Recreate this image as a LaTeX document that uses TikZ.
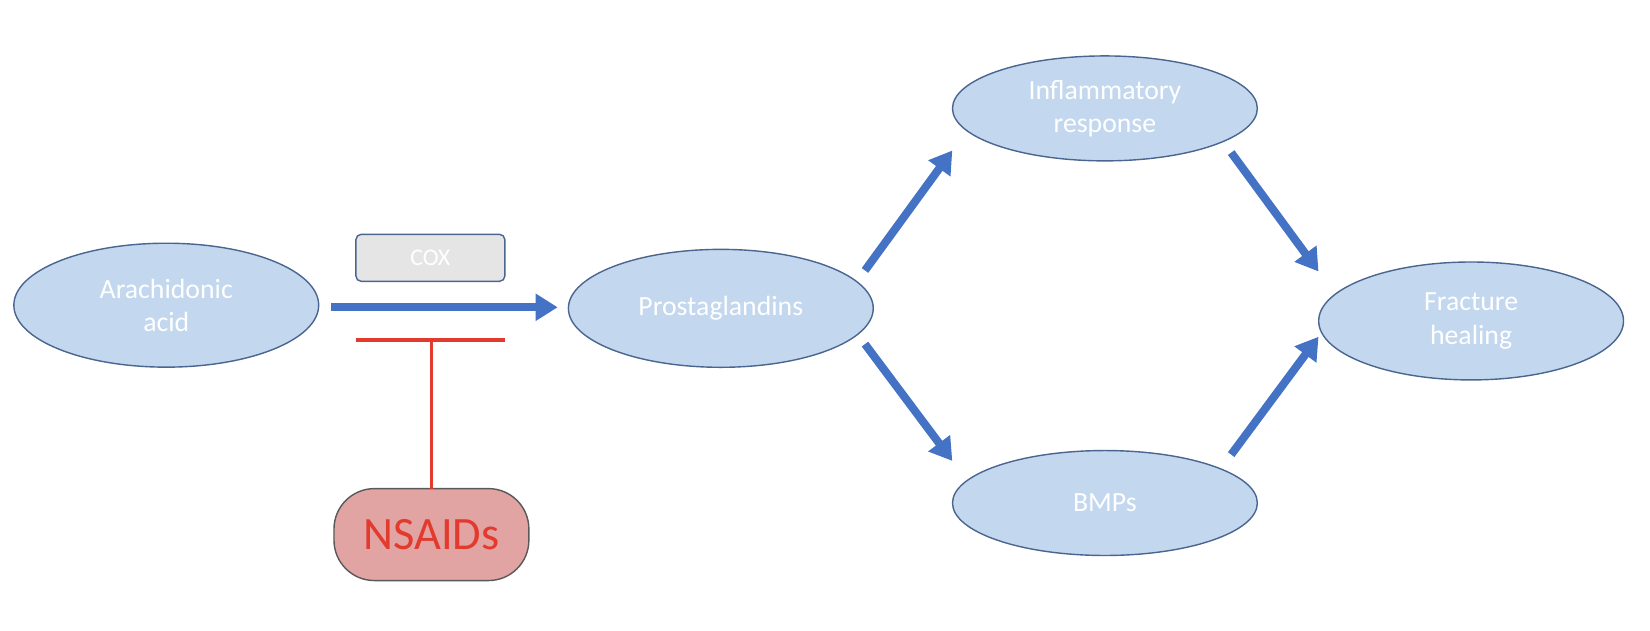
\documentclass[tikz,border=0pt]{standalone}
\usepackage{fontspec}
\setmainfont{Carlito}
\usetikzlibrary{shapes.geometric,arrows.meta}
\definecolor{ellfill}{HTML}{C3D7EE}
\definecolor{ellline}{HTML}{4A6590}
\definecolor{arrblue}{HTML}{4472C4}
\definecolor{inhred}{HTML}{E23B2E}
\definecolor{drugfill}{HTML}{E2A3A3}
\begin{document}
\begin{tikzpicture}[x=0.010523cm, y=-0.010523cm,
    stage/.style={ellipse, draw=ellline, fill=ellfill, inner sep=0pt, outer sep=0pt, minimum width=3.05cm, minimum height=1.18cm, align=center, text=white, font=\fontsize{7.9}{9.5}\selectfont},
    flow/.style={-{Triangle[length=6.3pt,width=7.4pt]}, line width=2.3pt, arrblue}
]
    \useasboundingbox (0,0) rectangle (1568,599);
    % metabolites
    \node[stage, minimum height=1.24cm] (aa) at (158,290) {Arachidonic\\acid};
    \node[stage] (pg) at (685,293) {Prostaglandins};
    \node[stage, minimum height=1.05cm] (inf) at (1050,103) {Inflammatory\\response};
    \node[stage, minimum height=1.05cm] (bmp) at (1050,478) {BMPs};
    \node[stage] (fh) at (1398,305) {Fracture\\healing};

    % enzyme and inhibitor
    \node[draw=ellline, fill=gray!20, rounded corners=1.5pt, inner sep=0pt, outer sep=0pt, minimum width=1.49cm, minimum height=0.47cm, text=white, font=\fontsize{6.8}{8}\selectfont] (cox) at (409,245) {COX};
    \node[draw=gray!70!black, fill=drugfill, rounded corners=11.5pt, inner sep=0pt, outer sep=0pt, minimum width=1.95cm, minimum height=0.92cm, text=inhred, font=\fontsize{13.2}{16}\selectfont] (nsaid) at (410,508) {NSAIDs};
    \coordinate (blockl) at (338,323);
    \coordinate (blockr) at (480,323);
    \coordinate (blockm) at (410,323);

    % arrows
    \draw[flow] ([shift={(157,2)}]aa.center) -- ([shift={(-155,-1)}]pg.center);
    \draw[flow] ([shift={(137,-36)}]pg.center) -- ([shift={(-145,40)}]inf.center);
    \draw[flow] ([shift={(137,34)}]pg.center) -- ([shift={(-145,-40)}]bmp.center);
    \draw[flow] ([shift={(120,42)}]inf.center) -- ([shift={(-145,-47)}]fh.center);
    \draw[flow] ([shift={(120,-46)}]bmp.center) -- ([shift={(-145,15)}]fh.center);

    % inhibition
    \draw[inhred, line width=0.95pt] (blockl) -- (blockr);
    \draw[inhred, line width=0.95pt] (nsaid.north) -- (blockm);
\end{tikzpicture}
\end{document}
